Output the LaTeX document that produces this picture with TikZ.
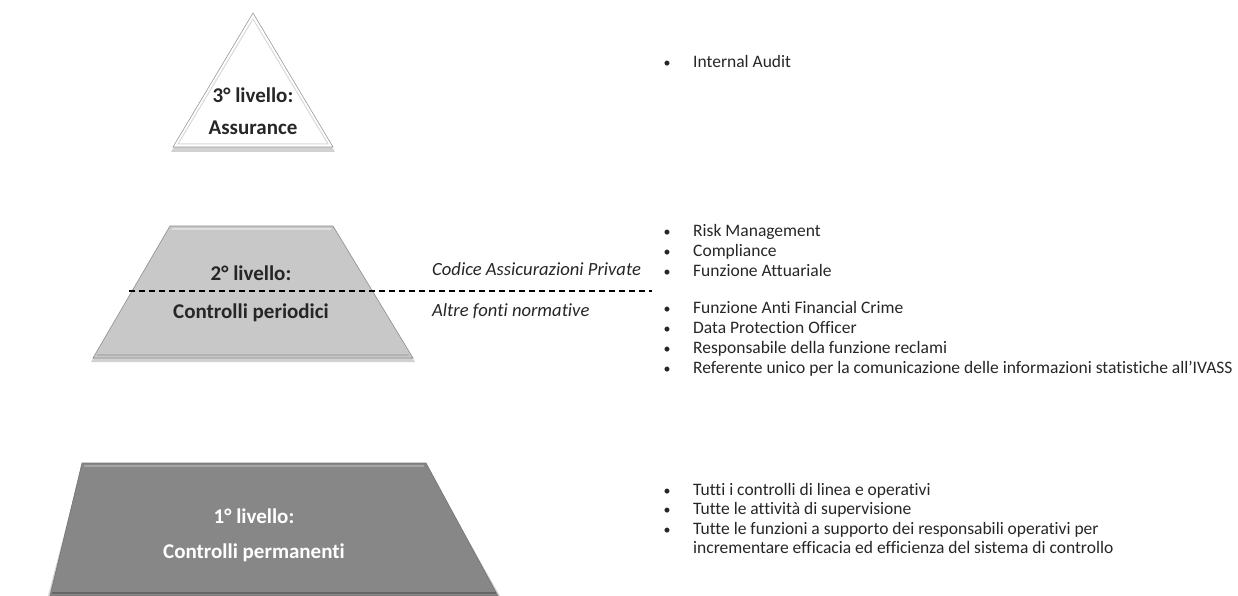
\documentclass[tikz,border=0pt]{standalone}
\usepackage{fontspec}
\setmainfont{Carlito}[Ligatures=CommonOff]
\usetikzlibrary{calc}
\definecolor{lightfill}{RGB}{200,200,200}
\definecolor{lightbevel}{RGB}{222,222,222}
\definecolor{darkfill}{RGB}{135,135,135}
\definecolor{darkbevel}{RGB}{165,165,165}
\definecolor{txt}{RGB}{38,38,38}
\begin{document}
\begin{tikzpicture}[x=1pt,y=-1pt,
  lvl/.style={font=\fontsize{21}{24}\selectfont\bfseries, text=txt, inner sep=0pt},
  lvlw/.style={lvl, text=white},
  src/.style={font=\fontsize{18.6}{22}\selectfont\itshape, text=txt, inner sep=0pt, anchor=mid west},
  item/.style={font=\fontsize{17.5}{20}\selectfont, text=txt, inner sep=0pt, anchor=mid west},
  bul/.style={font=\fontsize{14}{18}\selectfont, text=txt, inner sep=0pt, anchor=mid},
  shade/.style={fill=black, opacity=0.18},
  sep/.style={line width=1.2pt, dash pattern=on 6pt off 4pt, draw=black}
]
\useasboundingbox (0,0) rectangle (1238,596);

% ---------- level 3 triangle ----------
\fill[shade] (253,16) -- (335,152) -- (171,152) -- cycle;
\filldraw[fill=white, draw=black!40, line width=0.6pt] (253,13) -- (333,147) -- (173,147) -- cycle;
\draw[black!15, line width=1pt] (253,19) -- (328,144) -- (178,144) -- cycle;
\node[lvl] (l3a) at (253,95) {3° livello:};
\node[lvl] (l3b) at (253,128) {Assurance};

% ---------- level 2 trapezoid ----------
\fill[shade] (170,229) -- (333,229) -- (415,362) -- (91,362) -- cycle;
\filldraw[fill=lightfill, draw=black!45, line width=0.6pt] (170,226) -- (333,226) -- (413,358) -- (93,358) -- cycle;
\draw[lightbevel, line width=1.6pt] (172,229) -- (331,229);
\draw[black!30, line width=1.2pt] (97,355) -- (409,355);
\node[lvl] (l2a) at (251,273) {2° livello:};
\node[lvl] (l2b) at (251,313) {Controlli periodici};

% dashed separator
\coordinate (d0) at (129,291);
\coordinate (d1) at (652,291);
\draw[sep] (d0) -- (d1);
\node[src] (s1) at (432,273) {Codice Assicurazioni Private};
\node[src] (s2) at (432,314) {Altre fonti normative};

% ---------- level 1 trapezoid ----------
\fill[shade] (82,466) -- (426,466) -- (500,596) -- (48,596) -- cycle;
\filldraw[fill=darkfill, draw=black!55, line width=0.6pt] (82,463) -- (426,463) -- (498,596) -- (50,596) -- cycle;
\draw[darkbevel, line width=1.8pt] (84,466) -- (424,466);
\draw[black!60, line width=1.5pt] (52,593) -- (496,593);
\node[lvlw] (l1a) at (254,516) {1° livello:};
\node[lvlw] (l1b) at (254,553) {Controlli permanenti};

% ---------- bullet lists ----------
\foreach \y/\t/\n in {
  65/Internal Audit/a1,
  234/Risk Management/b1,
  254/Compliance/b2,
  274/Funzione Attuariale/b3,
  311/Funzione Anti Financial Crime/b4,
  331/Data Protection Officer/b5,
  351/Responsabile della funzione reclami/b6,
  371/Referente unico per la comunicazione delle informazioni statistiche all’IVASS/b7,
  493/Tutti i controlli di linea e operativi/c1,
  512/Tutte le attività di supervisione/c2,
  532/Tutte le funzioni a supporto dei responsabili operativi per/c3}
{
  \node[bul] (\n-dot) at (667,\y) {•};
  \node[item] (\n) at (693,\y) {\t};
}
\node[item] (c3b) at (693,551) {incrementare efficacia ed efficienza del sistema di controllo};
\end{tikzpicture}
\end{document}
